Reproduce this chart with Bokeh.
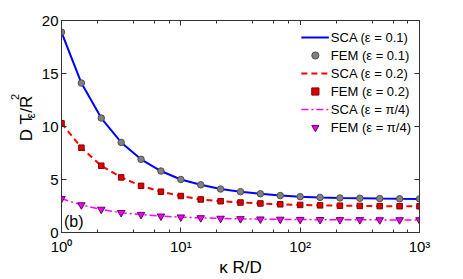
from bokeh.plotting import figure
from bokeh.layouts import row
from bokeh.models import Range1d, LogAxis, LinearAxis, Label, Legend, LogTicker, FixedTicker
from bokeh.core.properties import value
from bokeh.embed import file_html
from bokeh.resources import INLINE
import math

# ---- data ----
kappa_RD = [1, 1.468, 2.154, 3.162, 4.642, 6.813, 10, 14.68, 21.54, 31.62,
            46.42, 68.13, 100, 146.8, 215.4, 316.2, 464.2, 681.3, 1000]
sca_eps01 = [18.9, 14.1, 10.8, 8.5, 6.9, 5.8, 5.0, 4.5, 4.1, 3.85,
             3.65, 3.48, 3.38, 3.31, 3.26, 3.23, 3.2, 3.18, 3.17]
fem_eps01 = [18.9, 14.1, 10.8, 8.5, 6.9, 5.8, 5.0, 4.5, 4.1, 3.85,
             3.65, 3.48, 3.38, 3.31, 3.26, 3.23, 3.2, 3.18, 3.17]
sca_eps02 = [10.3, 8.0, 6.3, 5.2, 4.4, 3.85, 3.44, 3.12, 2.95, 2.83,
             2.74, 2.66, 2.6, 2.56, 2.53, 2.51, 2.49, 2.48, 2.47]
fem_eps02 = [10.3, 8.0, 6.3, 5.2, 4.4, 3.85, 3.44, 3.12, 2.95, 2.83,
             2.74, 2.66, 2.6, 2.56, 2.53, 2.51, 2.49, 2.48, 2.47]
sca_epspi4 = [3.2, 2.6, 2.18, 1.87, 1.69, 1.54, 1.45, 1.38, 1.33, 1.29,
              1.26, 1.24, 1.22, 1.21, 1.2, 1.2, 1.19, 1.19, 1.19]
fem_epspi4 = [3.2, 2.6, 2.18, 1.87, 1.69, 1.54, 1.45, 1.38, 1.33, 1.29,
              1.26, 1.24, 1.22, 1.21, 1.2, 1.2, 1.19, 1.19, 1.19]

x_ticks = [1, 10, 100, 1000]
x_tick_labels = ["10\u2070", "10\u00b9", "10\u00b2", "10\u00b3"]
y_ticks = [0, 5, 10, 15, 20]

FONT = "Liberation Sans"
AX = "#333333"

H = 279
LW = 38          # width of the strip holding the y-axis title
W = 463 - LW

p = figure(width=W, height=H, x_axis_type="log",
           x_range=Range1d(1, 1000), y_range=Range1d(0, 20),
           output_backend="svg", toolbar_location=None,
           min_border_left=60 - LW, min_border_right=44,
           min_border_top=20, min_border_bottom=42)
p.grid.visible = False
p.outline_line_color = None
p.background_fill_color = "white"
p.border_fill_color = "white"

r1 = p.line(kappa_RD, sca_eps01, line_color="#0000ff", line_width=2)
r2 = p.scatter(kappa_RD, fem_eps01, marker="circle", size=6.5,
               fill_color="#808080", line_color="#505050", line_width=1)
r3 = p.line(kappa_RD, sca_eps02, line_color="#ff0000", line_width=2, line_dash="6 4")
r4 = p.scatter(kappa_RD, fem_eps02, marker="square", size=5.5,
               fill_color="#dd0000", line_color="#800000", line_width=1)
r5 = p.line(kappa_RD, sca_epspi4, line_color="#ff00ff", line_width=1.5, line_dash="7 3 2 3")
r6 = p.scatter(kappa_RD, fem_epspi4, marker="inverted_triangle", size=7.5,
               fill_color="#ee00ee", line_color="#660066", line_width=1)

legend = Legend(items=[
    ("SCA (\u03b5 = 0.1)", [r1]),
    ("FEM (\u03b5 = 0.1)", [r2]),
    ("SCA (\u03b5 = 0.2)", [r3]),
    ("FEM (\u03b5 = 0.2)", [r4]),
    ("SCA (\u03b5 = \u03c0/4)", [r5]),
    ("FEM (\u03b5 = \u03c0/4)", [r6]),
], location="top_right")
legend.label_text_font = FONT
legend.label_text_font_size = "13px"
legend.label_text_color = "black"
legend.label_height = 18
legend.glyph_height = 18
legend.glyph_width = 28
legend.label_standoff = 2
legend.spacing = 0
legend.padding = 3
legend.margin = 5
legend.border_line_alpha = 0
legend.background_fill_alpha = 1
p.add_layout(legend, "center")

def style_axis(ax):
    ax.axis_line_color = AX
    ax.major_tick_line_color = AX
    ax.minor_tick_line_color = AX
    ax.major_tick_in = 5
    ax.major_tick_out = 0
    ax.minor_tick_in = 3
    ax.minor_tick_out = 0
    ax.major_label_text_font = FONT
    ax.major_label_text_color = "black"
    ax.major_label_text_font_size = "15px"

xa = p.xaxis[0]
xa.ticker = LogTicker(desired_num_ticks=4)
xa.major_label_overrides = {x: l for x, l in zip(x_ticks, x_tick_labels)}
style_axis(xa)
xa.major_label_standoff = 5
xa.axis_label = "\u03ba R/D"
xa.axis_label_text_font = FONT
xa.axis_label_text_font_size = "17px"
xa.axis_label_text_font_style = "normal"
xa.axis_label_text_color = "black"
xa.axis_label_standoff = 0

ya = p.yaxis[0]
ya.ticker = FixedTicker(ticks=y_ticks)
style_axis(ya)
ya.major_label_standoff = 3
ya.minor_tick_in = 0

top = LogAxis(ticker=LogTicker(desired_num_ticks=4))
style_axis(top)
top.major_label_text_alpha = 0
top.major_label_text_font_size = "2px"
top.major_label_standoff = 0
p.add_layout(top, "above")

right = LinearAxis(ticker=FixedTicker(ticks=y_ticks))
style_axis(right)
right.minor_tick_in = 0
right.major_label_text_alpha = 0
right.major_label_text_font_size = "2px"
right.major_label_standoff = 0
p.add_layout(right, "right")

p.add_layout(Label(x=1.05, y=0.25, text="(b)", text_font=FONT,
                   text_font_size="16px", text_color="black",
                   text_baseline="bottom", text_align="left"))

# ---- strip with the rotated y-axis title (pixel coordinates) ----
q = figure(width=LW, height=H, x_range=Range1d(0, LW), y_range=Range1d(0, H),
           x_axis_location=None, y_axis_location=None,
           output_backend="svg", toolbar_location=None, min_border=0)
q.grid.visible = False
q.outline_line_color = None
q.background_fill_color = "white"
q.border_fill_color = "white"

ang = math.pi / 2
def ylab(text, x, y, size):
    q.text(x=[x], y=[y], text=[text], angle=ang, text_font=value(FONT),
           text_font_size=size, text_align="left", text_baseline="alphabetic",
           text_color="black")

ylab("D T", 26, 120, "17px")
ylab("\u03b5", 30, 150, "12px")
ylab("/R", 26, 157.5, "17px")
ylab("2", 14, 174.5, "11px")

layout = row(q, p, spacing=0)
open("out.html", "w").write(file_html(layout, INLINE))
